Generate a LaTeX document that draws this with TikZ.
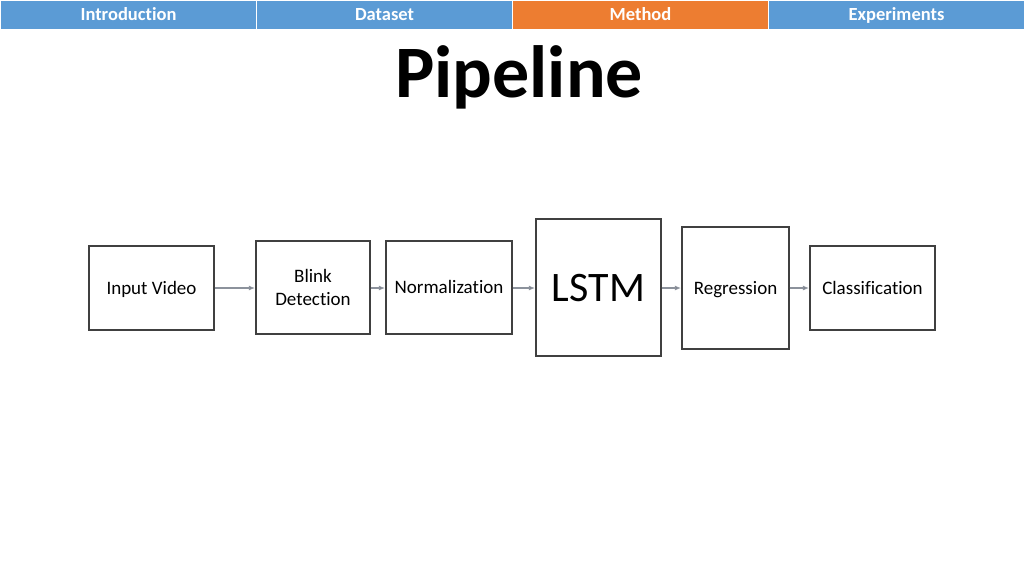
\documentclass[tikz,border=0pt]{standalone}
\usepackage{fontspec}
\setmainfont{Carlito}[Ligatures=NoCommon]
\usetikzlibrary{arrows.meta}
\definecolor{tabblue}{HTML}{5B9BD5}
\definecolor{taborange}{HTML}{ED7D31}
\definecolor{boxline}{HTML}{404040}
\definecolor{arrline}{HTML}{8C929C}
\definecolor{arrhead}{HTML}{4A5060}
\tikzset{
  tab/.style={draw=white, line width=1pt, minimum height=29pt, inner sep=0pt, anchor=north west, text=white, text height=11.9pt, text depth=0pt, font=\fontsize{18.5}{20}\selectfont\bfseries},
  stage/.style={draw=boxline, line width=1.1pt, fill=white, inner sep=0pt, align=center, font=\fontsize{19}{23}\selectfont, text=black},
  oneline/.style={text height=12.2pt, text depth=0pt},
  flow/.style={draw=arrline, line width=1.1pt, -{Latex[length=6pt,width=5pt,fill=arrhead]}, shorten >=0.5pt}
}
\begin{document}
\begin{tikzpicture}[x=1pt,y=-1pt]
\useasboundingbox[fill=white] (0,0) rectangle (1024,576);
\node[tab, fill=tabblue, minimum width=256pt] (t1) at (0,0) {Introduction};
\node[tab, fill=tabblue, minimum width=256pt] (t2) at (256,0) {Dataset};
\node[tab, fill=taborange, minimum width=256pt] (t3) at (512,0) {Method};
\node[tab, fill=tabblue, minimum width=256pt] (t4) at (768,0) {Experiments};
\node[font=\fontsize{74}{80}\selectfont\bfseries, anchor=base] (title) at (519,97) {Pipeline};

\node[stage, oneline, minimum width=125pt, minimum height=84pt] (in) at (151.5,288) {Input Video};
\node[stage, minimum width=114pt, minimum height=93pt] (blink) at (313,287.5) {Blink\\Detection};
\node[stage, oneline, minimum width=126pt, minimum height=93pt] (norm) at (449,287.5) {Normalization};
\node[stage, minimum width=125pt, minimum height=137pt, text height=27pt, text depth=0pt, font=\fontsize{42}{46}\selectfont] (lstm) at (598.5,287.5) {LSTM};
\node[stage, oneline, minimum width=107pt, minimum height=122pt] (reg) at (735.5,288) {Regression};
\node[stage, oneline, minimum width=125pt, minimum height=84pt] (cls) at (872.5,288) {Classification};

\draw[flow] (in.east) -- (blink.west |- in.east);
\draw[flow] (blink.east |- in.east) -- (norm.west |- in.east);
\draw[flow] (norm.east |- in.east) -- (lstm.west |- in.east);
\draw[flow] (lstm.east |- in.east) -- (reg.west |- in.east);
\draw[flow] (reg.east |- in.east) -- (cls.west);
\end{tikzpicture}
\end{document}
